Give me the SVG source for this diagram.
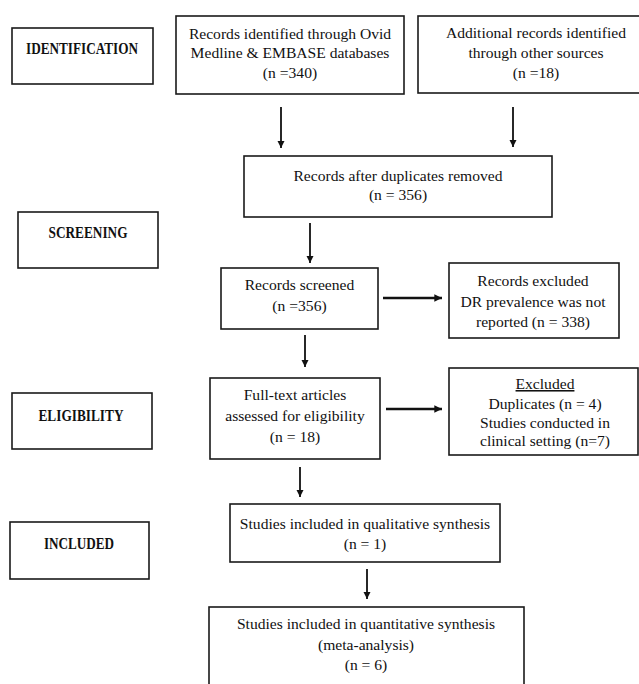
<svg xmlns="http://www.w3.org/2000/svg" width="639" height="684" viewBox="0 0 639 684">
<style>
  .box { fill: #ffffff; stroke: #1a1a1a; stroke-width: 1.6; }
  .t { font-family: "Liberation Serif", "Times New Roman", serif; font-size: 15.6px; fill: #111; text-anchor: middle; }
  .lbl { font-family: "Liberation Serif", "Times New Roman", serif; font-size: 16px; font-weight: bold; fill: #111; text-anchor: middle; }
  .conn line { stroke: #111; stroke-width: 1.8; }
  .conn line.h { stroke-width: 2.4; }
</style>
<defs>
  <marker id="ah" viewBox="0 0 10 10" refX="10" refY="5" markerWidth="4" markerHeight="4" markerUnits="strokeWidth" orient="auto">
    <path d="M0,0 L10,5 L0,10 z" fill="#111"/>
  </marker>
  <marker id="ahh" viewBox="0 0 10 10" refX="10" refY="5" markerWidth="3.2" markerHeight="3.2" markerUnits="strokeWidth" orient="auto">
    <path d="M0,0 L10,5 L0,10 z" fill="#111"/>
  </marker>
</defs>
<rect width="639" height="684" fill="#ffffff"/>

<g id="identification">
  <rect class="box" x="12" y="28" width="141" height="56"/>
  <text class="lbl" x="82" y="54" textLength="112" lengthAdjust="spacingAndGlyphs">IDENTIFICATION</text>
</g>
<g id="screening">
  <rect class="box" x="18" y="212" width="140" height="56"/>
  <text class="lbl" x="88" y="238" textLength="79" lengthAdjust="spacingAndGlyphs">SCREENING</text>
</g>
<g id="eligibility">
  <rect class="box" x="12" y="393" width="140" height="56"/>
  <text class="lbl" x="81" y="421" textLength="85" lengthAdjust="spacingAndGlyphs">ELIGIBILITY</text>
</g>
<g id="included">
  <rect class="box" x="10" y="522" width="139" height="57"/>
  <text class="lbl" x="79" y="549" textLength="70" lengthAdjust="spacingAndGlyphs">INCLUDED</text>
</g>

<g id="ovid">
  <rect class="box" x="176" y="16" width="228" height="78"/>
  <text class="t" x="290" y="39">Records identified through Ovid</text>
  <text class="t" x="290" y="58">Medline &amp; EMBASE databases</text>
  <text class="t" x="290" y="78">(n =340)</text>
</g>
<g id="additional">
  <rect class="box" x="418" y="16" width="240" height="77"/>
  <text class="t" x="536" y="38">Additional records identified</text>
  <text class="t" x="536" y="58">through other sources</text>
  <text class="t" x="536" y="78">(n =18)</text>
</g>
<g id="duplicates-removed">
  <rect class="box" x="244" y="156" width="308" height="61"/>
  <text class="t" x="398" y="181">Records after duplicates removed</text>
  <text class="t" x="398" y="200">(n = 356)</text>
</g>
<g id="screened">
  <rect class="box" x="221" y="268" width="157" height="61"/>
  <text class="t" x="299.5" y="290">Records screened</text>
  <text class="t" x="299.5" y="311">(n =356)</text>
</g>
<g id="records-excluded">
  <rect class="box" x="449" y="263" width="170" height="75"/>
  <text class="t" x="533" y="286">Records excluded</text>
  <text class="t" x="533" y="307">DR prevalence was not</text>
  <text class="t" x="533" y="327">reported (n = 338)</text>
</g>
<g id="full-text">
  <rect class="box" x="210" y="378" width="170" height="81"/>
  <text class="t" x="295" y="400">Full-text articles</text>
  <text class="t" x="295" y="421">assessed for eligibility</text>
  <text class="t" x="295" y="442">(n = 18)</text>
</g>
<g id="excluded">
  <rect class="box" x="449" y="368" width="189" height="87"/>
  <text class="t" x="545" y="389" text-decoration="underline">Excluded</text>
  <text class="t" x="545" y="409">Duplicates (n = 4)</text>
  <text class="t" x="545" y="428">Studies conducted in</text>
  <text class="t" x="545" y="446">clinical setting (n=7)</text>
</g>
<g id="qualitative">
  <rect class="box" x="230" y="504" width="270" height="58"/>
  <text class="t" x="365" y="529">Studies included in qualitative synthesis</text>
  <text class="t" x="365" y="549">(n = 1)</text>
</g>
<g id="quantitative">
  <rect class="box" x="209" y="607" width="315" height="82"/>
  <text class="t" x="366" y="629">Studies included in quantitative synthesis</text>
  <text class="t" x="366" y="650">(meta-analysis)</text>
  <text class="t" x="366" y="670">(n = 6)</text>
</g>

<g id="connectors" class="conn">
  <line x1="281" y1="107" x2="281" y2="148" marker-end="url(#ah)"/>
  <line x1="513" y1="107" x2="513" y2="147" marker-end="url(#ah)"/>
  <line x1="310" y1="223" x2="310" y2="263" marker-end="url(#ah)"/>
  <line class="h" x1="383" y1="298" x2="442" y2="298" marker-end="url(#ahh)"/>
  <line x1="305" y1="335" x2="305" y2="367" marker-end="url(#ah)"/>
  <line class="h" x1="386" y1="409" x2="442" y2="409" marker-end="url(#ahh)"/>
  <line x1="300" y1="467" x2="300" y2="497" marker-end="url(#ah)"/>
  <line x1="367" y1="569" x2="367" y2="599" marker-end="url(#ah)"/>
</g>
</svg>
